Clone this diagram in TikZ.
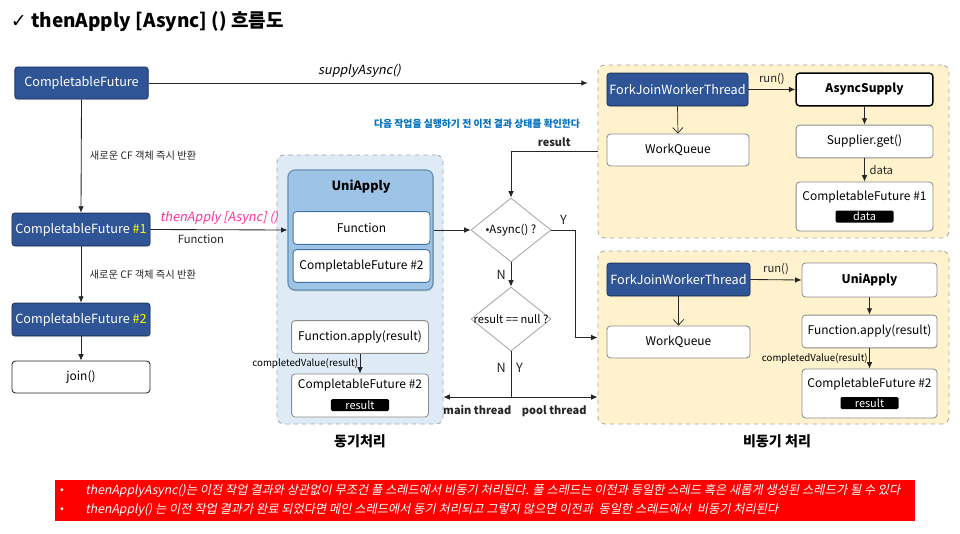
\documentclass[tikz,border=0pt]{standalone}
\usepackage{fontspec}
\setmainfont{Noto Sans CJK KR}
\newfontfamily\slantfont[FakeSlant=0.2]{Noto Sans CJK KR}
\newfontfamily\symbolfont{DejaVu Sans}
\usetikzlibrary{arrows.meta,positioning,shadows,shapes.geometric}
\definecolor{cBlue}{HTML}{2F5597}
\definecolor{cBlueDk}{HTML}{203864}
\definecolor{cSync}{HTML}{DEEBF7}
\definecolor{cUni}{HTML}{9DC3E6}
\definecolor{cUniDk}{HTML}{41719C}
\definecolor{cAsync}{HTML}{FFF2CC}
\definecolor{cFrame}{HTML}{A6A6A6}
\definecolor{cEdge}{HTML}{8C8C8C}
\definecolor{cInk}{HTML}{262626}
\definecolor{cNote}{HTML}{0070C0}
\definecolor{cPink}{HTML}{FF3399}
\definecolor{cYel}{HTML}{FFFF00}
\definecolor{cRed}{HTML}{FF0000}
\tikzset{
  flow/.style={-{Latex[length=1.6mm,width=1.4mm]},line width=0.6pt,draw=cInk},
  spawn/.style={-{Straight Barb[length=1.4mm,width=2.6mm]},line width=0.5pt,draw=cInk},
  cfbox/.style={rounded corners=2pt,draw=cBlueDk,fill=cBlue,text=white,line width=0.6pt,
                minimum width=3.45cm,minimum height=0.82cm,inner sep=0pt,
                font=\fontsize{9}{10}\selectfont,
                drop shadow={opacity=0.25,shadow xshift=0.6pt,shadow yshift=-0.8pt}},
  gbox/.style={rounded corners=2.5pt,draw=cEdge,fill=white,line width=0.6pt,
               minimum width=3.42cm,minimum height=0.82cm,inner sep=0pt,
               font=\fontsize{8.5}{10}\selectfont},
  kbox/.style={gbox,draw=black,line width=1pt,font=\fontsize{8.5}{10}\selectfont\bfseries},
  boxtext/.style={inner sep=0pt,font=\fontsize{8.5}{10}\selectfont},
  pill/.style={fill=black,text=white,rounded corners=1pt,minimum width=1.45cm,
               minimum height=0.3cm,inner sep=0pt,font=\fontsize{7.8}{8}\selectfont},
  area/.style={rounded corners=5pt,draw=cFrame,dashed,line width=0.6pt},
  decision/.style={diamond,draw=cFrame,fill=white,line width=0.6pt,inner sep=0pt,
                   minimum width=2cm,minimum height=1.6cm},
  lbl/.style={font=\fontsize{7.3}{9}\selectfont,text=cInk},
  blbl/.style={font=\fontsize{7.8}{9}\selectfont\bfseries,text=cInk},
  yn/.style={font=\fontsize{9}{10}\selectfont,text=cInk},
  notetext/.style={anchor=west,inner sep=0pt,text=white,font=\fontsize{8.7}{10}\slantfont}
}
\begin{document}
\begin{tikzpicture}[x=0.025cm,y=-0.025cm]
  \useasboundingbox (0,0) rectangle (960,533);
  \fill[white] (0,0) rectangle (960,533);

  \node[anchor=west,font=\fontsize{13.5}{15}\selectfont\bfseries] (title) at (6,22)
    {{\symbolfont\mdseries ✓} thenApply [Async] () 흐름도};

  % Areas behind everything.
  \node[area,fill=cSync,minimum width=4.15cm,minimum height=6.725cm] (sync) at (360,289.5) {};
  \node[area,fill=cAsync,minimum width=8.775cm,minimum height=4.325cm] (atop) at (773.5,151.5) {};
  \node[area,fill=cAsync,minimum width=8.775cm,minimum height=4.325cm] (abot) at (773.5,337.5) {};

  % Left column: caller side.
  \node[cfbox,minimum width=3.33cm,minimum height=0.8cm] (cf) at (81.5,83) {CompletableFuture};
  \node[cfbox] (cf1) at (81,229.5) {CompletableFuture \textcolor{cYel}{\#1}};
  \node[cfbox] (cf2) at (81,319.5) {CompletableFuture \textcolor{cYel}{\#2}};
  \node[gbox,draw=cInk,minimum width=3.45cm,minimum height=0.8cm] (join) at (81,377) {join()};

  \draw[flow,shorten >=7pt] (cf.east) --
    node[above,pos=0.47,font=\fontsize{9}{10}\slantfont] {supplyAsync()} (cf.east -| atop.west);
  \draw[flow] (cf.south) -- node[lbl,right,xshift=2.5pt] {새로운 CF 객체 즉시 반환} (cf1.north);
  \draw[flow] (cf1.south) -- node[lbl,right,xshift=2.5pt] {새로운 CF 객체 즉시 반환} (cf2.north);
  \draw[flow] (cf2.south) -- (join.north);

  % Sync side.
  \node[rounded corners=5pt,draw=cUniDk!80,fill=cUni,line width=0.8pt,minimum width=3.625cm,
        minimum height=3cm,drop shadow={opacity=0.3,shadow xshift=0.6pt,shadow yshift=-1pt}]
        (uni) at (360.5,230) {};
  \node[font=\fontsize{9}{10}\selectfont\bfseries] (unititle) at (361,187) {UniApply};
  \node[gbox,draw=cUniDk] (fn) at (361.5,228) {Function};
  \node[gbox,draw=cUniDk] (fncf) at (361.5,266) {CompletableFuture \#2};
  \draw[flow] (cf1.east) --
    node[above,text=cPink,font=\fontsize{9}{10}\slantfont] {thenApply [Async] ()}
    node[lbl,below,xshift=-0.45cm,font=\fontsize{8}{9}\selectfont] {Function} (uni.west);

  \node[gbox] (apply) at (360,337) {Function.apply(result)};
  \node[gbox,minimum height=1.075cm] (res) at (360,395.5) {};
  \node[boxtext] (restext) at (360,385) {CompletableFuture \#2};
  \node[pill] (respill) at (360,405) {result};
  \draw[flow] (apply.south) --
    node[left,inner sep=1pt,font=\fontsize{6.9}{8}\selectfont] {completedValue(result)} (res.north);
  \node[font=\fontsize{10}{12}\selectfont\bfseries] (synclbl) at (360,441) {동기처리};

  % Decisions.
  \node[decision] (isasync) at (511,230) {};
  \node[inner sep=0pt,font=\fontsize{8.1}{10}\selectfont] (isasynctxt) at (isasync) {•Async() ?};
  \node[decision] (isnull) at (511,319) {};
  \node[inner sep=0pt,font=\fontsize{7.9}{10}\selectfont] (isnulltxt) at (isnull) {result == null ?};
  \node[text=cNote,font=\fontsize{7}{8}\selectfont\bfseries] (checknote) at (477,124)
    {다음 작업을 실행하기 전 이전 결과 상태를 확인한다};

  \draw[flow] (uni.east) -- (isasync.west);
  \draw[flow] (atop.west) -- node[blbl,above] {result} (atop.west -| isasync.north) -- (isasync.north);
  \draw[flow] (isasync.east) -- node[yn,above] {Y} ++(24,0) |- (abot.west);
  \draw[flow] (isasync.south) -- node[yn,left] {N} (isnull.north);
  \coordinate (split) at (511,397);
  \draw[line width=0.6pt,draw=cInk] (isnull.south) --
    node[yn,left,pos=0.35] {N} node[yn,right,pos=0.35] {Y} (split);
  \draw[flow] (split) -- node[blbl,below,yshift=-2pt] {main thread} (split -| sync.east);
  \draw[flow] (split) -- node[blbl,below,yshift=-2.5pt] {pool thread} (split -| abot.west);

  % Async side: supplyAsync.
  \node[cfbox,minimum width=3.525cm] (fjtop) at (677.5,89.5) {ForkJoinWorkerThread};
  \node[kbox] (supply) at (864.5,89.5) {AsyncSupply};
  \node[gbox,minimum width=3.55cm,minimum height=0.8cm] (wqtop) at (678,150) {WorkQueue};
  \node[gbox] (get) at (864.5,141.5) {Supplier.get()};
  \node[gbox,minimum height=1.225cm] (cfdata) at (864.5,206.5) {};
  \node[boxtext] (cfdatatxt) at (864.5,197) {CompletableFuture \#1};
  \node[pill] (datapill) at (864.5,216.5) {data};
  \draw[flow] (fjtop.east) -- node[lbl,above,font=\fontsize{8}{9}\selectfont] {run()} (supply.west);
  \draw[spawn] (fjtop.south) -- (wqtop.north);
  \draw[flow] (supply.south) -- (get.north);
  \draw[flow] (get.south) -- node[lbl,right,font=\fontsize{8}{9}\selectfont] {data} (cfdata.north);

  % Async side: thenApplyAsync.
  \node[cfbox,minimum width=3.575cm] (fjbot) at (678.5,279.5) {ForkJoinWorkerThread};
  \node[gbox,minimum width=3.375cm,minimum height=0.85cm,font=\fontsize{8.5}{10}\selectfont\bfseries]
    (uniasync) at (869.5,280) {UniApply};
  \node[gbox,minimum width=3.575cm,minimum height=0.8cm] (wqbot) at (678.5,342) {WorkQueue};
  \node[gbox,minimum width=3.375cm] (applyasync) at (869.5,331.5) {Function.apply(result)};
  \node[gbox,minimum width=3.375cm,minimum height=1.225cm] (cfres) at (869.5,393.5) {};
  \node[boxtext] (cfrestxt) at (869.5,384) {CompletableFuture \#2};
  \node[pill] (respillasync) at (869.5,403) {result};
  \draw[flow] (fjbot.east) -- node[lbl,above,font=\fontsize{8}{9}\selectfont] {run()} (uniasync.west);
  \draw[spawn] (fjbot.south) -- (wqbot.north);
  \draw[flow] (uniasync.south) -- (applyasync.north);
  \draw[flow] (applyasync.south) --
    node[left,inner sep=1pt,font=\fontsize{6.9}{8}\selectfont] {completedValue(result)} (cfres.north);
  \node[font=\fontsize{10}{12}\selectfont\bfseries] (asynclbl) at (777,441) {비동기 처리};

  % Notes.
  \node[fill=cRed,minimum width=21.5cm,minimum height=1.025cm,inner sep=0pt] (notes) at (485,500.5) {};
  \node[text=white,inner sep=0pt,font=\fontsize{8}{9}\selectfont] (bul1) at (62,491) {•};
  \node[text=white,inner sep=0pt,font=\fontsize{8}{9}\selectfont] (bul2) at (62,510) {•};
  \node[notetext] (note1) at (85,491)
    {thenApplyAsync()는 이전 작업 결과와 상관없이 무조건 풀 스레드에서 비동기 처리된다. 풀 스레드는 이전과 동일한 스레드 혹은 새롭게 생성된 스레드가 될 수 있다};
  \node[notetext] (note2) at (85,510)
    {thenApply() 는 이전 작업 결과가 완료 되었다면 메인 스레드에서 동기 처리되고 그렇지 않으면 이전과~ 동일한 스레드에서~ 비동기 처리된다};
\end{tikzpicture}
\end{document}
